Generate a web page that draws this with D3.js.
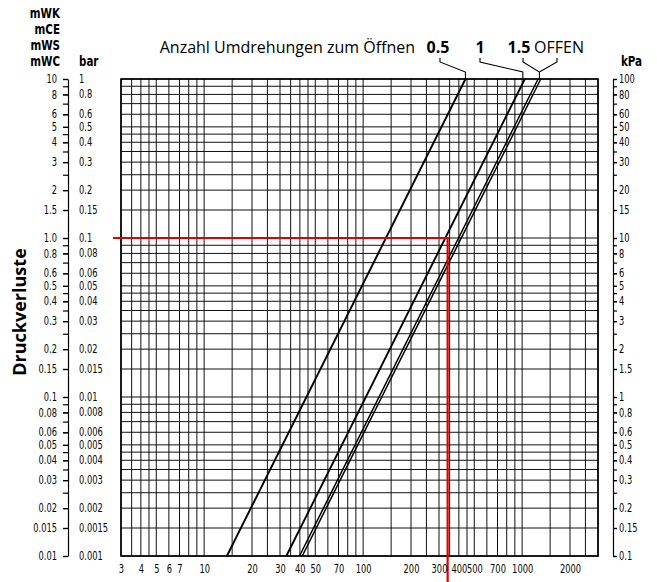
<!DOCTYPE html>
<html><head><meta charset="utf-8">
<script src="https://cdn.jsdelivr.net/npm/d3@7"></script>
<style>body{margin:0;background:#fff}</style>
</head><body><svg id="c" width="657" height="582"></svg>
<script>
// ---- data ----
const flowTickValues = [3,4,5,6,7,10,20,30,40,50,70,100,200,300,400,500,700,1000,2000];
const flowGrid = [3,3.5,4,4.5,5,6,7,8,9,10,15,20,25,30,35,40,45,50,60,70,80,90,100,150,200,250,300,350,400,450,500,600,700,800,900,1000,1500,2000,2500,3000];
const barGrid = [1,0.9,0.8,0.7,0.6,0.5,0.45,0.4,0.35,0.3,0.25,0.2,0.15,
  0.1,0.09,0.08,0.07,0.06,0.05,0.045,0.04,0.035,0.03,0.025,0.02,0.015,
  0.01,0.009,0.008,0.007,0.006,0.005,0.0045,0.004,0.0035,0.003,0.0025,0.002,0.0015,0.001];
const labelBarValues = [1,0.8,0.6,0.5,0.4,0.3,0.2,0.15,0.1,0.08,0.06,0.05,0.04,0.03,0.02,0.015,0.01,0.008,0.006,0.005,0.004,0.003,0.002,0.0015,0.001];
const barLabels = ["1","0.8","0.6","0.5","0.4","0.3","0.2","0.15","0.1","0.08","0.06","0.05","0.04","0.03","0.02","0.015","0.01","0.008","0.006","0.005","0.004","0.003","0.002","0.0015","0.001"];
const mwcLabels = ["10","8","6","5","4","3","2","1.5","1.0","0.8","0.6","0.5","0.4","0.3","0.2","0.15","0.1","0.08","0.06","0.05","0.04","0.03","0.02","0.015","0.01"];
const kpaLabels = ["100","80","60","50","40","30","20","15","10","8","6","5","4","3","2","1.5","1","0.8","0.6","0.5","0.4","0.3","0.2","0.15","0.1"];
const unitLabels = ["mWK","mCE","mWS","mWC"];
const seriesNames = ["0.5","1","1.5","OFFEN"];
const series05 = [[13.9,0.001],[440,1]];
const series1 = [[32.9,0.001],[1040,1]];
const series15 = [[39.8,0.001],[1260,1]];
const seriesOffen = [[41.4,0.001],[1310,1]];
const redPoint = [340, 0.1];

// ---- layout ----
const svg = d3.select("#c");
svg.append("rect").attr("width",657).attr("height",582).attr("fill","#fff");
const L=121,R=598,T=79,B=556;
const x = d3.scaleLog().domain([3,3000]).range([L,R]);
const y = d3.scaleLog().domain([0.001,1]).range([B,T]);
const yM = d3.scaleLog().domain([0.01,10]).range([B,T]);
const yK = d3.scaleLog().domain([0.1,100]).range([B,T]);
const tickFont = "'DejaVu Sans Condensed','DejaVu Sans',sans-serif";
const TF = 11.5, SX = 0.8;

// squeeze text horizontally around its anchor (condensed look)
function condense(sel, sx){
  sel.each(function(){
    const t = d3.select(this);
    const tx = +t.attr("x")||0, ty = +t.attr("y")||0;
    t.attr("x",0).attr("y",0).attr("transform",`translate(${tx},${ty}) scale(${sx},1)`);
  });
}

// grid
const grid = svg.append("g").attr("stroke","#111").attr("stroke-width",1);
grid.selectAll("line.v").data(flowGrid).join("line").attr("class","v")
  .attr("x1",d=>x(d)).attr("x2",d=>x(d)).attr("y1",T).attr("y2",B);
grid.selectAll("line.h").data(barGrid).join("line").attr("class","h")
  .attr("x1",L).attr("x2",R).attr("y1",d=>y(d)).attr("y2",d=>y(d));
svg.append("rect").attr("x",L).attr("y",T).attr("width",R-L).attr("height",B-T)
  .attr("fill","none").attr("stroke","#000").attr("stroke-width",1.6);

// curves
const line = d3.line().x(d=>x(d[0])).y(d=>y(d[1]));
const allSeries = [series05, series1, series15, seriesOffen];
svg.append("g").selectAll("path").data(allSeries).join("path")
  .attr("d",line).attr("fill","none").attr("stroke","#000")
  .attr("stroke-width",(d,i)=> i>=2 ? 1.5 : 1.9);

// red reading line
svg.append("path")
  .attr("d", `M${x(3)-8},${y(redPoint[1])}H${x(redPoint[0])}V582`)
  .attr("fill","none").attr("stroke","#e10000").attr("stroke-width",2.2);

// left axis (mWC)
const gl = svg.append("g").attr("transform",`translate(68,0)`);
gl.call(d3.axisLeft(yM).tickValues(barGrid.map(d=>d*10)).tickSize(5).tickSizeOuter(0).tickFormat(""));
const gl2 = svg.append("g").attr("transform",`translate(68,0)`);
gl2.call(d3.axisLeft(yM).tickValues(labelBarValues.map(d=>d*10)).tickSize(5).tickSizeOuter(0).tickPadding(6)
  .tickFormat((d,i)=>mwcLabels[i]));
gl2.select(".domain").remove();
[gl,gl2].forEach(g=>{g.selectAll("line,path").attr("stroke","#000").attr("stroke-width",1.2);
  g.selectAll("text").attr("font-family",tickFont).attr("font-size",TF).attr("fill","#000");});
condense(gl2.selectAll("text"), SX);

// bar labels
const bl = svg.append("g").selectAll("text").data(labelBarValues).join("text")
  .attr("x",79).attr("y",d=>y(d)).attr("dy","0.35em")
  .attr("font-family",tickFont).attr("font-size",TF).text((d,i)=>barLabels[i]);
condense(bl, SX);

// right axis (kPa)
const gr = svg.append("g").attr("transform",`translate(613,0)`);
gr.call(d3.axisRight(yK).tickValues(barGrid.map(d=>d*100)).tickSize(4).tickSizeOuter(0).tickFormat(""));
const gr2 = svg.append("g").attr("transform",`translate(613,0)`);
gr2.call(d3.axisRight(yK).tickValues(labelBarValues.map(d=>d*100)).tickSize(4).tickSizeOuter(0).tickPadding(2)
  .tickFormat((d,i)=>kpaLabels[i]));
gr2.select(".domain").remove();
[gr,gr2].forEach(g=>{g.selectAll("line,path").attr("stroke","#000").attr("stroke-width",1.2);
  g.selectAll("text").attr("font-family",tickFont).attr("font-size",TF).attr("fill","#000");});
condense(gr2.selectAll("text"), SX);

// bottom axis
const gb = svg.append("g").attr("transform",`translate(0,${B})`);
gb.call(d3.axisBottom(x).tickValues(flowTickValues).tickSize(0).tickPadding(9).tickFormat(d=>String(d)));
gb.select(".domain").remove();
gb.selectAll("text").attr("font-family",tickFont).attr("font-size",TF).attr("fill","#000");
condense(gb.selectAll("text"), SX);

// unit labels
const boldCond = "'DejaVu Sans Condensed','DejaVu Sans',sans-serif";
const ul = svg.append("g").selectAll("text").data(unitLabels).join("text")
  .attr("x",60).attr("y",(d,i)=>18+i*16).attr("text-anchor","end")
  .attr("font-family",boldCond).attr("font-weight","bold").attr("font-size",14).text(d=>d);
condense(ul, 0.82);
condense(svg.append("text").attr("x",79).attr("y",66).attr("font-family",boldCond).attr("font-weight","bold")
  .attr("font-size",14).text("bar"), 0.82);
condense(svg.append("text").attr("x",621).attr("y",66).attr("font-family",boldCond).attr("font-weight","bold")
  .attr("font-size",14).text("kPa"), 0.82);

// y title
svg.append("text").attr("transform","translate(26,312) rotate(-90)").attr("text-anchor","middle")
  .attr("font-family","'Open Sans',sans-serif").attr("font-weight","bold").attr("font-size",18)
  .text("Druckverluste");

// header
const hf = "'Open Sans',sans-serif";
svg.append("text").attr("x",415).attr("y",53).attr("text-anchor","end").attr("font-family",hf)
  .attr("font-size",16).text("Anzahl Umdrehungen zum Öffnen");
const hdrX = [438, 480, 519, 559];
svg.append("g").selectAll("text").data(seriesNames).join("text")
  .attr("x",(d,i)=>hdrX[i]).attr("y",53).attr("text-anchor","middle").attr("font-family",hf)
  .attr("font-size",16).attr("font-weight",(d,i)=>i<3?"bold":"normal").text(d=>d);

// leaders
const topY = y(1);
const lead = svg.append("g").attr("fill","none").attr("stroke","#000").attr("stroke-width",1.1);
lead.append("path").attr("d",`M440,58V62L${x(series05[1][0])},72V${topY}`);
lead.append("path").attr("d",`M480,58V62L${x(series1[1][0])-2},72V${topY}`);
const jx = (x(series15[1][0])+x(seriesOffen[1][0]))/2;
lead.append("path").attr("d",`M523,58V62L${jx},72V${topY}`);
lead.append("path").attr("d",`M557,58V62L${jx},72`);
</script></body></html>
